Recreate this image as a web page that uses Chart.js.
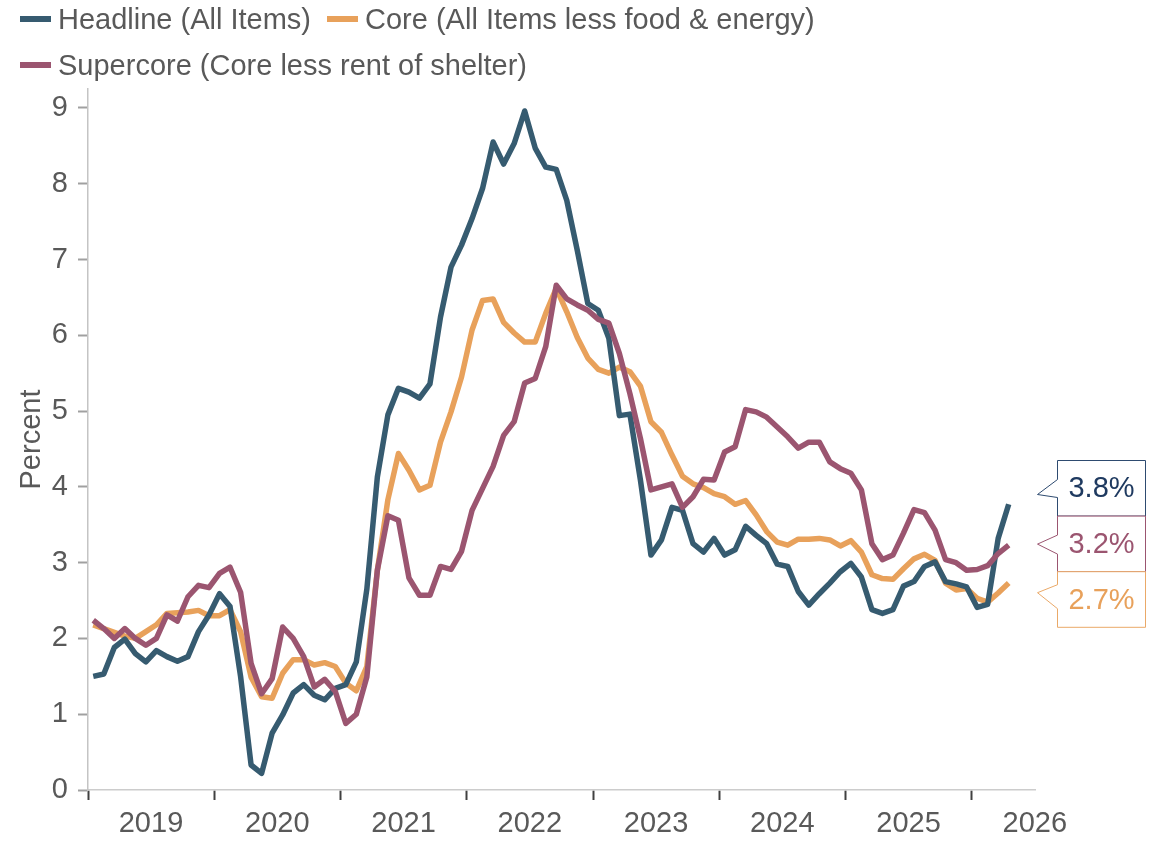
<!DOCTYPE html>
<html>
<head>
<meta charset="utf-8">
<script src="https://cdn.jsdelivr.net/npm/chart.js@4.4.1/dist/chart.umd.min.js"></script>
<style>
  html, body { margin: 0; padding: 0; background: #fff; }
  #wrap { position: relative; width: 1165px; height: 843px; }
  #legend {
    position: absolute; left: 20px; top: -4px; width: 830px;
    display: flex; flex-wrap: wrap; column-gap: 16px;
    font-family: "Liberation Sans", Arial, sans-serif; font-size: 29px; color: #595959;
  }
  .item { display: flex; align-items: center; height: 46px; white-space: nowrap; }
  .swatch { width: 31px; height: 6px; margin-right: 7px; }
  canvas { position: absolute; left: 0; top: 0; }
</style>
</head>
<body>
<div id="wrap">
  <canvas id="graph_ID" width="1165" height="843"></canvas>
  <div id="legend"></div>
</div>
<script>
    // year labels, one per tick (Jan of each year)
    var years = ['2019', '2020', '2021', '2022', '2023', '2024', '2025', '2026'];

    // monthly values, Jan 2019 -> Apr 2026, percent y/y
    var headline = [
      1.50, 1.53, 1.88, 1.99, 1.80, 1.69, 1.84, 1.76, 1.70, 1.76, 2.09, 2.31,
      2.59, 2.42, 1.50, 0.33, 0.22, 0.75, 0.99, 1.28, 1.39, 1.25, 1.19, 1.34,
      1.39, 1.69, 2.65, 4.13, 4.95, 5.30, 5.25, 5.17, 5.36, 6.24, 6.90, 7.19,
      7.54, 7.94, 8.55, 8.26, 8.53, 8.96, 8.47, 8.22, 8.19, 7.78, 7.12, 6.42,
      6.33, 5.96, 4.94, 4.96, 4.09, 3.10, 3.30, 3.73, 3.69, 3.25, 3.14, 3.32,
      3.10, 3.17, 3.48, 3.36, 3.25, 2.98, 2.95, 2.62, 2.44, 2.59, 2.73, 2.88,
      2.99, 2.81, 2.38, 2.33, 2.38, 2.69, 2.75, 2.95, 3.01, 2.75, 2.72, 2.68,
      2.41, 2.45, 3.32, 3.77
    ];

    var core = [
      2.18, 2.13, 2.08, 2.03, 2.00, 2.09, 2.18, 2.33, 2.34, 2.35, 2.37, 2.30,
      2.30, 2.38, 2.09, 1.49, 1.23, 1.21, 1.54, 1.72, 1.72, 1.65, 1.68, 1.63,
      1.41, 1.31, 1.63, 2.90, 3.83, 4.44, 4.22, 3.96, 4.02, 4.59, 4.99, 5.45,
      6.07, 6.46, 6.48, 6.17, 6.03, 5.91, 5.91, 6.29, 6.62, 6.31, 5.97, 5.70,
      5.55, 5.50, 5.58, 5.52, 5.33, 4.86, 4.72, 4.42, 4.14, 4.04, 3.99, 3.91,
      3.87, 3.77, 3.82, 3.63, 3.41, 3.27, 3.23, 3.31, 3.31, 3.32, 3.30, 3.22,
      3.29, 3.14, 2.84, 2.79, 2.78, 2.92, 3.05, 3.11, 3.03, 2.73, 2.64, 2.66,
      2.53, 2.48, 2.60, 2.73
    ];

    var supercore = [
      2.24, 2.13, 2.00, 2.13, 2.00, 1.91, 2.00, 2.31, 2.23, 2.55, 2.70, 2.67,
      2.86, 2.94, 2.61, 1.67, 1.27, 1.47, 2.15, 2.00, 1.76, 1.36, 1.46, 1.30,
      0.88, 1.00, 1.49, 2.90, 3.62, 3.56, 2.80, 2.57, 2.57, 2.95, 2.91, 3.15,
      3.69, 3.98, 4.27, 4.68, 4.86, 5.37, 5.43, 5.85, 6.66, 6.48, 6.40, 6.33,
      6.21, 6.16, 5.76, 5.23, 4.64, 3.96, 4.00, 4.04, 3.73, 3.87, 4.10, 4.09,
      4.46, 4.53, 5.02, 4.99, 4.92, 4.79, 4.66, 4.51, 4.59, 4.59, 4.33, 4.24,
      4.18, 3.96, 3.25, 3.04, 3.10, 3.39, 3.70, 3.66, 3.43, 3.04, 3.00, 2.90,
      2.91, 2.96, 3.12, 3.23
    ];

    var yTicks = [0, 1, 2, 3, 4, 5, 6, 7, 8, 9];


    var fontFamily = '"Liberation Sans", Arial, sans-serif';
    var grey = '#595959';

    var series = [
      { label: 'Headline (All Items)', data: headline, color: '#365b70', text: '#1f3a60', box: '#2e4b70', order: 1 },
      { label: 'Core (All Items less food & energy)', data: core, color: '#e8a15b', text: '#e8a15b', box: '#eaa968', order: 2 },
      { label: 'Supercore (Core less rent of shelter)', data: supercore, color: '#9b5570', text: '#9b5570', box: '#9b5570', order: 0 }
    ];


    // points sit in the middle of each month
    function toPoints(values)
    {
      return values.map(function(v, i) { return { x: i + 0.5, y: v }; });
    }

    function getDataset(s)
    {
      return {
        label: s.label,
        data: toPoints(s.data),
        borderColor: s.color,
        backgroundColor: s.color,
        borderWidth: 5.5,
        pointRadius: 0,
        tension: 0,
        borderJoinStyle: 'round',
        order: s.order
      };
    }


    // html legend, wraps to two rows like the original
    var legend = document.getElementById('legend');
    series.forEach(function(s) {
      var item = document.createElement('div');
      item.className = 'item';
      var sw = document.createElement('span');
      sw.className = 'swatch';
      sw.style.background = s.color;
      item.appendChild(sw);
      item.appendChild(document.createTextNode(s.label));
      legend.appendChild(item);
    });


    // last-value boxes on the right, stacked under the headline end point
    var pointerOffsets = [[19, 34, 37], [19, 28, 38], [13, 21, 37]];
    var boxOrder = [0, 2, 1];

    var callouts = {
      id: 'callouts',
      afterDraw: function(chart) {
        var ctx = chart.ctx;
        var yScale = chart.scales.y;
        var left = Math.round(chart.chartArea.right) + 22.5;
        var w = 88, h = 55.6;
        var top = Math.round(yScale.getPixelForValue(headline[headline.length - 1]) - 44.5) + 0.5;

        boxOrder.forEach(function(idx, k) {
          var s = series[idx];
          var y0 = top + k * h;
          var p = pointerOffsets[k];
          ctx.save();
          ctx.fillStyle = '#fff';
          ctx.strokeStyle = s.box;
          ctx.lineWidth = 1;
          ctx.beginPath();
          ctx.moveTo(left, y0);
          ctx.lineTo(left + w, y0);
          ctx.lineTo(left + w, y0 + h);
          ctx.lineTo(left, y0 + h);
          ctx.lineTo(left, y0 + p[2]);
          ctx.lineTo(left - 20, y0 + p[1]);
          ctx.lineTo(left, y0 + p[0]);
          ctx.closePath();
          ctx.fill();
          ctx.stroke();

          ctx.fillStyle = s.text;
          ctx.font = '29px ' + fontFamily;
          ctx.textAlign = 'center';
          ctx.textBaseline = 'middle';
          var last = s.data[s.data.length - 1];
          ctx.fillText(last.toFixed(1) + '%', left + w / 2, y0 + h / 2 + 1);
          ctx.restore();
        });
      }
    };


    Chart.defaults.font.family = fontFamily;
    Chart.defaults.color = grey;

    var options = {
      responsive: false,
      animation: false,
      layout: { padding: { top: 89, right: 130, bottom: 0, left: 0 } },
      plugins: {
        legend: { display: false },
        tooltip: { enabled: false }
      },
      scales: {
        x: {
          type: 'linear',
          min: 0,
          max: 90,
          afterBuildTicks: function(scale) {
            scale.ticks = years.map(function(y, k) { return { value: k * 12 }; });
          },
          afterFit: function(scale) { scale.height = 53; },
          ticks: {
            callback: function(value) { return years[Math.round(value / 12)]; },
            labelOffset: 63,
            padding: 7,
            color: grey,
            font: { size: 29 },
            maxRotation: 0,
            autoSkip: false
          },
          grid: {
            drawOnChartArea: false,
            drawTicks: true,
            tickLength: 10,
            tickColor: '#404040',
            tickWidth: 2
          },
          border: { color: '#cccccc', width: 1.5 }
        },
        y: {
          type: 'linear',
          min: 0,
          max: 9.25,
          afterBuildTicks: function(scale) {
            scale.ticks = yTicks.map(function(v) { return { value: v }; });
          },
          afterFit: function(scale) { scale.width = 88; },
          ticks: {
            padding: 10,
            color: grey,
            font: { size: 29 }
          },
          grid: {
            drawOnChartArea: false,
            drawTicks: true,
            tickLength: 10,
            tickColor: '#a0a0a0',
            tickWidth: 2
          },
          border: { color: '#c4c4c4', width: 1.5 },
          title: {
            display: true,
            text: 'Percent',
            color: grey,
            font: { size: 29 },
            padding: { top: 15, bottom: 0 }
          }
        }
      }
    };


    var mychart = document.getElementById('graph_ID').getContext('2d');
    var graphique = new Chart(mychart, {
      type: 'line',
      data: { datasets: series.map(getDataset) },
      options: options,
      plugins: [callouts]
    });
</script>
</body>
</html>
